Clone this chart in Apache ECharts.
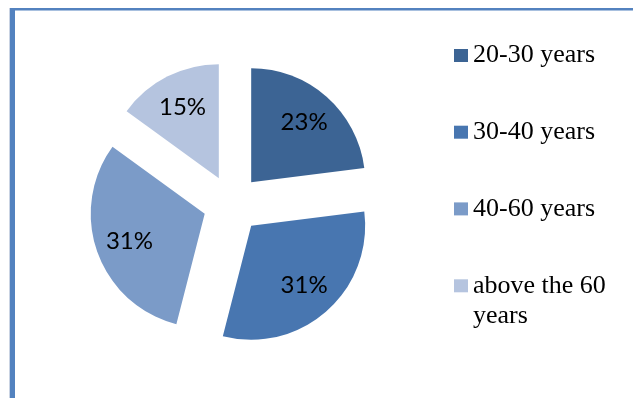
<!DOCTYPE html>
<html>
<head>
<meta charset="utf-8">
<script src="https://cdn.jsdelivr.net/npm/echarts@6/dist/echarts.min.js"></script>
<style>html,body{margin:0;padding:0;background:#fff}#c{width:633px;height:398px}</style>
</head>
<body>
<div id="c"></div>
<script>
const categories = ['20-30 years', '30-40 years', '40-60 years', 'above the 60 years'];
const shares = [23, 31, 31, 15];
const colors = ['#3c6494', '#4876b0', '#7b9bc8', '#b5c4df'];

const chart = echarts.init(document.getElementById('c'), null, {renderer: 'canvas'});
const pieData = categories.map((n, i) => ({name: n, value: shares[i], selected: true, itemStyle: {color: colors[i]}}));
const labelData = categories.map((n, i) => ({name: n, value: shares[i], selected: true}));
const legendText = {fontFamily: '"Liberation Serif", "Times New Roman", serif', fontSize: 26, color: '#000', lineHeight: 30};
chart.setOption({
  animation: false,
  graphic: [
    {type: 'rect', shape: {x: 9, y: 8, width: 1, height: 390}, style: {fill: '#c9d3e3'}, silent: true},
    {type: 'rect', shape: {x: 10, y: 8, width: 623, height: 2.5}, style: {fill: '#5382bf'}, silent: true},
    {type: 'rect', shape: {x: 10, y: 8, width: 5, height: 390}, style: {fill: '#5382bf'}, silent: true}
  ],
  legend: [
    {
      orient: 'vertical', left: 454, top: 40.5, padding: 0,
      itemWidth: 14, itemHeight: 13, itemGap: 46.7, icon: 'rect',
      selectedMode: false,
      data: categories.slice(0, 3),
      textStyle: legendText
    },
    {
      orient: 'vertical', left: 454, top: 240.8, padding: 0,
      itemWidth: 14, itemHeight: 13, icon: 'rect',
      selectedMode: false,
      data: [categories[3]],
      formatter: () => ' \nabove the 60\nyears',
      textStyle: legendText
    }
  ],
  series: [
    {
      type: 'pie', center: [232, 204], radius: [0, 114],
      startAngle: 90, clockwise: true,
      selectedMode: 'multiple', selectedOffset: 29,
      label: {show: false}, labelLine: {show: false},
      emphasis: {disabled: true},
      itemStyle: {borderWidth: 0},
      data: pieData
    },
    {
      type: 'pie', center: [232, 204], radius: [40, 114],
      startAngle: 90, clockwise: true, silent: true,
      selectedMode: 'multiple', selectedOffset: 29,
      legendHoverLink: false,
      percentPrecision: 0,
      emphasis: {disabled: true},
      itemStyle: {color: 'rgba(0,0,0,0)', borderWidth: 0},
      label: {show: true, position: 'inside', formatter: '{d}%', color: '#000', fontFamily: 'Lato, "Noto Sans", sans-serif', fontSize: 24},
      labelLine: {show: false},
      data: labelData
    }
  ]
});
</script>
</body>
</html>
